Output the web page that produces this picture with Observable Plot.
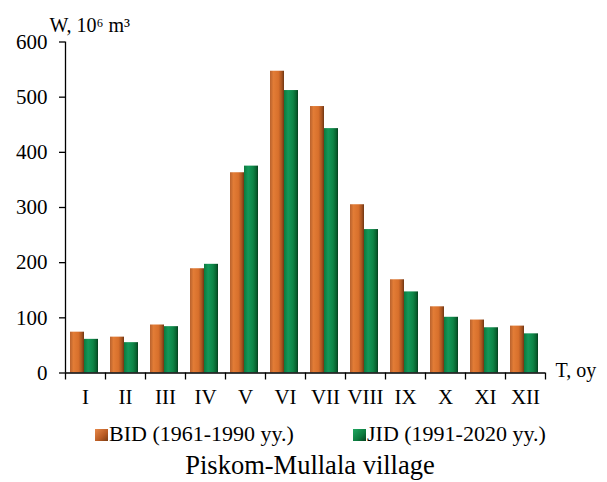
<!DOCTYPE html>
<html>
<head>
<meta charset="utf-8">
<script src="https://cdn.jsdelivr.net/npm/d3@7"></script>
<script src="https://cdn.jsdelivr.net/npm/@observablehq/plot@0.6"></script>
<style>
  body { margin: 0; background: #fff; }
  #wrap { position: relative; width: 607px; height: 482px; font-family: "Liberation Serif", "Times New Roman", serif; color: #000; }
  .lg { position: absolute; font-size: 22px; line-height: 22px; white-space: nowrap; }
  .sw { position: absolute; width: 13px; height: 12px; }
  #title { position: absolute; left: 0; width: 620px; text-align: center; font-size: 26.5px; line-height: 26.5px; white-space: nowrap; }
</style>
</head>
<body>
<div id="wrap"></div>
<script>
const months = ["I", "II", "III", "IV", "V", "VI", "VII", "VIII", "IX", "X", "XI", "XII"];
const bid = [74, 65, 87, 189, 363, 547, 483, 305, 169, 120, 96, 85];
const jid = [61, 55, 84, 197, 375, 512, 443, 260, 147, 101, 82, 71];
const yTicks = [0, 100, 200, 300, 400, 500, 600];
const seriesNames = ["BID (1961-1990 yy.)", "JID (1991-2020 yy.)"];
const yLabel = "W, 10\u2076 m\u00B3";
const xLabel = "T, oy";
const titleText = "Piskom-Mullala village";

const data = months.map((m, i) => ({month: m, i, bid: bid[i], jid: jid[i]}));

const chart = Plot.plot({
  width: 607,
  height: 415,
  marginLeft: 65,
  marginRight: 62,
  marginTop: 41.5,
  marginBottom: 42.5,
  style: {fontFamily: "Liberation Serif, Times New Roman, serif", fontSize: "21px", color: "#000", background: "transparent", overflow: "visible"},
  x: {type: "linear", domain: [0, months.length]},
  y: {domain: [0, 600]},
  marks: [
    Plot.rectY(data, {x1: d => d.i, x2: d => d.i + 1, y1: 0, y2: "bid", fill: "url(#gO)", insetLeft: 5, insetRight: 21}),
    Plot.rectY(data, {x1: d => d.i, x2: d => d.i + 1, y1: 0, y2: "jid", fill: "url(#gG)", insetLeft: 19, insetRight: 7}),
    Plot.ruleY([0], {stroke: "#000", strokeWidth: 1.3}),
    Plot.ruleX([0], {y1: 0, y2: 600, stroke: "#000", strokeWidth: 1.3}),
    Plot.axisY({ticks: yTicks, tickSize: 6, tickPadding: 12, label: null, fontSize: 21, strokeWidth: 1.3}),
    Plot.axisX({ticks: d3.range(months.length + 1), tickSize: 7, tickFormat: () => "", label: null, strokeWidth: 1.3}),
    Plot.axisX({ticks: months.map((m, i) => i + 0.5), tickSize: 0, tickPadding: 16, tickFormat: d => months[Math.round(d - 0.5)], label: null, fontSize: 21}),
    Plot.text([yLabel], {frameAnchor: "top-left", textAnchor: "start", dx: -16, dy: -24.5, fontSize: 20}),
    Plot.text([xLabel], {frameAnchor: "bottom-right", textAnchor: "start", dx: 10, dy: 3.5, fontSize: 20})
  ]
});

const sel = d3.select(chart);
const defs = sel.insert("defs", ":first-child");
function grad(id, stops) {
  const g = defs.append("linearGradient").attr("id", id).attr("x1", "0").attr("x2", "1").attr("y1", "0").attr("y2", "0");
  stops.forEach(([o, c]) => g.append("stop").attr("offset", o).attr("stop-color", c));
}
grad("gO", [["0", "#b8622e"], ["0.25", "#e27c36"], ["0.6", "#d8702c"], ["0.85", "#a65220"], ["1", "#6e3612"]]);
grad("gG", [["0", "#0c7a3e"], ["0.3", "#13985a"], ["0.65", "#0d8445"], ["0.88", "#08602f"], ["1", "#043d1c"]]);

const wrap = document.getElementById("wrap");
chart.style.position = "absolute";
chart.style.left = "0px";
chart.style.top = "0px";
wrap.appendChild(chart);

const legendItems = [
  {name: seriesNames[0], sw: 95, tx: 109, bg: "linear-gradient(135deg, #e8894a, #b85a22 60%, #7a3c14)"},
  {name: seriesNames[1], sw: 353, tx: 367, bg: "linear-gradient(135deg, #20a862, #0c7a3e 60%, #054020)"}
];
legendItems.forEach(it => {
  const s = document.createElement("div");
  s.className = "sw";
  s.style.left = it.sw + "px";
  s.style.top = "429px";
  s.style.background = it.bg;
  wrap.appendChild(s);
  const t = document.createElement("div");
  t.className = "lg";
  t.style.left = it.tx + "px";
  t.style.top = "423px";
  t.textContent = it.name;
  wrap.appendChild(t);
});
const title = document.createElement("div");
title.id = "title";
title.style.top = "452px";
title.textContent = titleText;
wrap.appendChild(title);
</script>
</body>
</html>
